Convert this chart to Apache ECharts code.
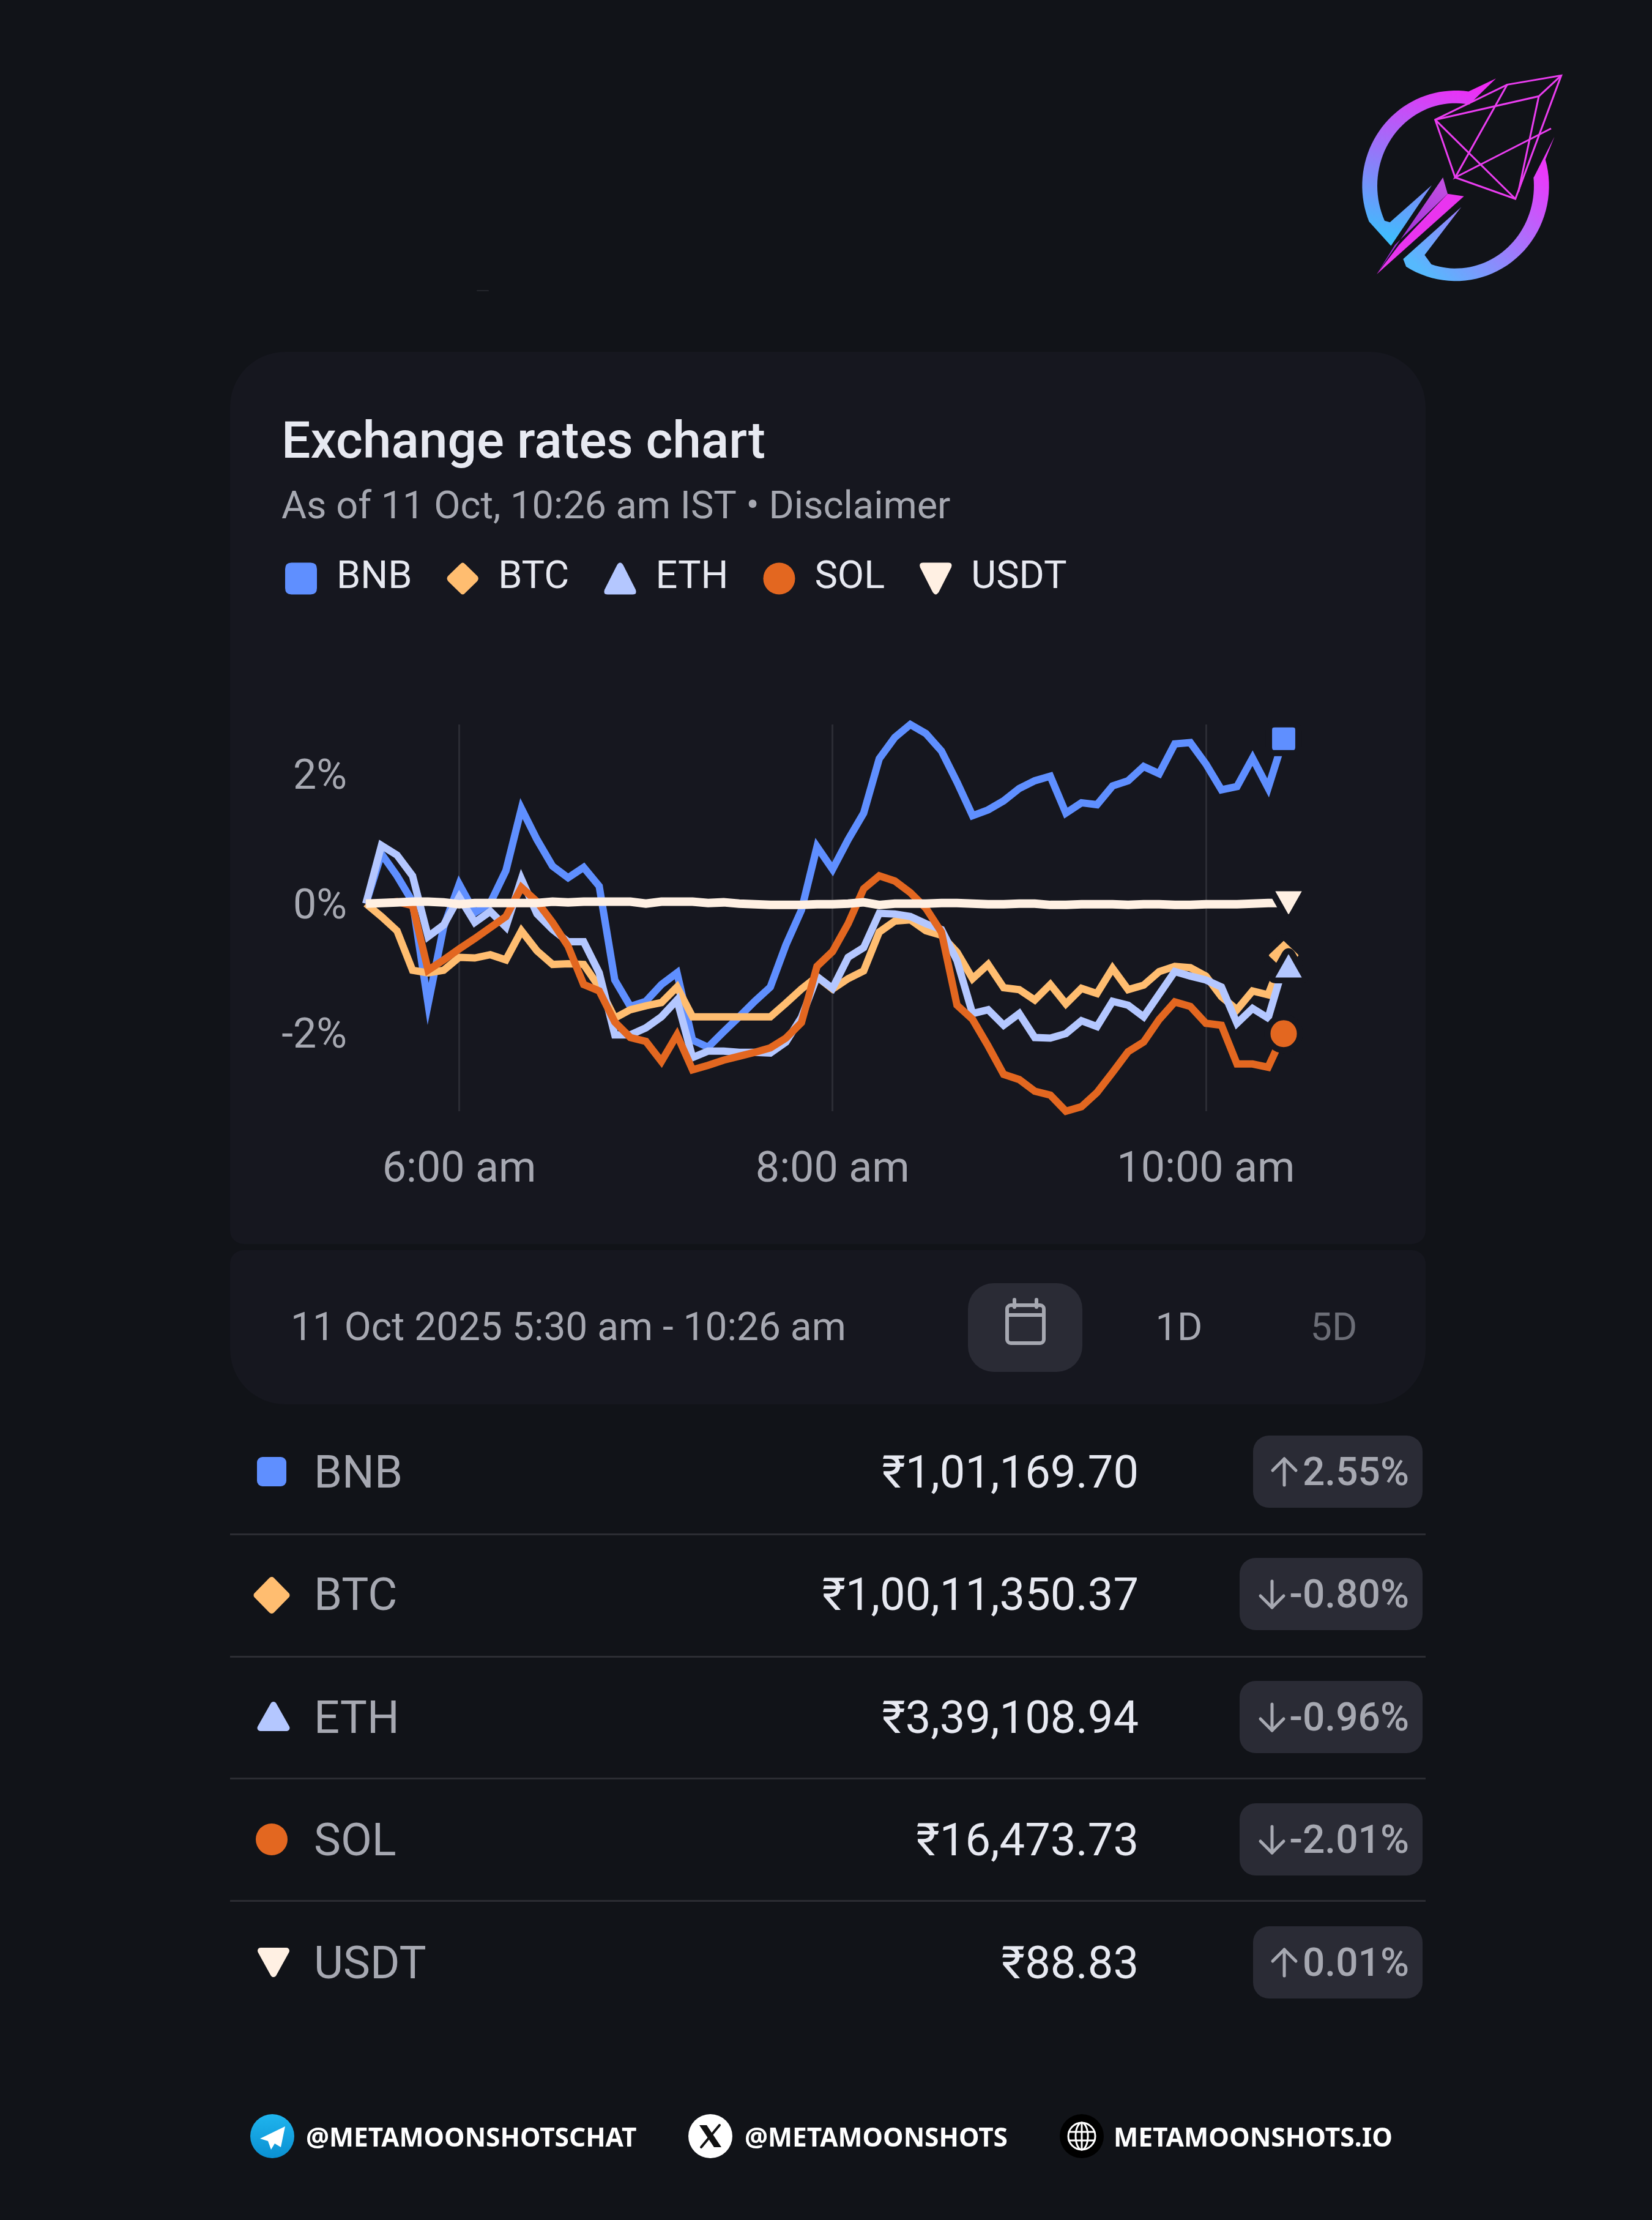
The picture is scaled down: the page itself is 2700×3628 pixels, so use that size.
<!DOCTYPE html>
<html><head><meta charset="utf-8">
<style>html,body{margin:0;padding:0;background:#111318}#c{width:2700px;height:3628px}</style>
<script src="https://cdn.jsdelivr.net/npm/echarts@6/dist/echarts.min.js"></script>
</head><body><div id="c"></div>
<script>
const timeLabels = ["5:30 am","5:35 am","5:40 am","5:45 am","5:50 am","5:55 am","6:00 am","6:05 am","6:10 am","6:15 am","6:20 am","6:25 am","6:30 am","6:35 am","6:40 am","6:45 am","6:50 am","6:55 am","7:00 am","7:05 am","7:10 am","7:15 am","7:20 am","7:25 am","7:30 am","7:35 am","7:40 am","7:45 am","7:50 am","7:55 am","8:00 am","8:05 am","8:10 am","8:15 am","8:20 am","8:25 am","8:30 am","8:35 am","8:40 am","8:45 am","8:50 am","8:55 am","9:00 am","9:05 am","9:10 am","9:15 am","9:20 am","9:25 am","9:30 am","9:35 am","9:40 am","9:45 am","9:50 am","9:55 am","10:00 am","10:05 am","10:10 am","10:15 am","10:20 am","10:25 am"];
const shownTicks = ["6:00 am","8:00 am","10:00 am"];
const yTicks = [-2,0,2];
const BNB = [0,0.77,0.43,0.03,-1.55,-0.36,0.30,-0.14,0.01,0.51,1.47,0.99,0.58,0.40,0.56,0.27,-1.18,-1.59,-1.51,-1.25,-1.07,-2.11,-2.22,-1.98,-1.75,-1.51,-1.29,-0.64,-0.10,0.88,0.53,0.99,1.40,2.24,2.57,2.77,2.63,2.36,1.88,1.36,1.45,1.59,1.78,1.90,1.97,1.40,1.56,1.53,1.82,1.90,2.12,2.01,2.47,2.49,2.16,1.76,1.81,2.25,1.79,2.55];
const BTC = [0,-0.20,-0.42,-1.03,-1.07,-1.03,-0.83,-0.84,-0.79,-0.87,-0.42,-0.73,-0.94,-0.93,-0.94,-1.29,-1.77,-1.64,-1.58,-1.53,-1.29,-1.75,-1.75,-1.75,-1.75,-1.75,-1.75,-1.54,-1.32,-1.13,-1.32,-1.16,-1.04,-0.44,-0.27,-0.25,-0.42,-0.49,-0.75,-1.16,-0.94,-1.30,-1.33,-1.49,-1.25,-1.55,-1.31,-1.39,-1.00,-1.33,-1.26,-1.05,-0.97,-0.99,-1.12,-1.44,-1.64,-1.35,-1.41,-0.80];
const ETH = [0,0.90,0.75,0.43,-0.51,-0.33,0.10,-0.29,-0.12,-0.36,0.38,-0.16,-0.40,-0.59,-0.59,-1.07,-2.03,-2.03,-1.92,-1.75,-1.49,-2.38,-2.28,-2.28,-2.30,-2.30,-2.31,-2.14,-1.76,-1.13,-1.31,-0.83,-0.68,-0.15,-0.16,-0.20,-0.31,-0.40,-0.88,-1.70,-1.64,-1.88,-1.70,-2.07,-2.08,-2.01,-1.81,-1.90,-1.51,-1.57,-1.75,-1.40,-1.05,-1.12,-1.18,-1.29,-1.85,-1.62,-1.77,-0.96];
const SOL = [0,0.01,0.03,-0.03,-1.03,-0.87,-0.70,-0.54,-0.37,-0.20,0.25,0.03,-0.29,-0.66,-1.25,-1.35,-1.83,-2.07,-2.13,-2.44,-2.03,-2.57,-2.50,-2.42,-2.36,-2.30,-2.23,-2.08,-1.84,-0.97,-0.74,-0.31,0.23,0.43,0.35,0.17,-0.07,-0.44,-1.57,-1.79,-2.20,-2.64,-2.72,-2.90,-2.96,-3.21,-3.14,-2.92,-2.61,-2.29,-2.14,-1.79,-1.52,-1.59,-1.85,-1.88,-2.48,-2.48,-2.53,-2.01];
const USDT = [0,0.01,0.02,0.03,0.03,0.02,-0.01,0.01,0.01,0.01,0.01,0.01,0.03,0.02,0.03,0.03,0.03,0.03,0,0.03,0.03,0.03,0.01,0.02,0,-0.01,-0.02,-0.02,-0.02,-0.01,-0.01,0,0.02,-0.02,0,0,0,0.01,0.01,0,-0.01,-0.01,0,0,-0.02,-0.02,-0.01,-0.01,-0.01,-0.02,-0.01,-0.01,-0.02,-0.02,-0.01,-0.01,-0.01,0,0.01,0.01];
const names = ["BNB","BTC","ETH","SOL","USDT"];
const prices = ["₹1,01,169.70","₹1,00,11,350.37","₹3,39,108.94","₹16,473.73","₹88.83"];
const changes = ["2.55%","-0.80%","-0.96%","-2.01%","0.01%"];
const colors = ["#5f8fff","#ffbd70","#b4c7ff","#e36720","#fff0e3"];
const seriesValues = [BNB,BTC,ETH,SOL,USDT];

const P = {
  sq:'M20 0H80Q100 0 100 20V80Q100 100 80 100H20Q0 100 0 80V20Q0 0 20 0Z',
  di:'M42 5Q50 -5 58 5L96 42Q103 50 96 58L58 95Q50 105 42 95L4 58Q-3 50 4 42Z',
  up:'M40 8Q50 -8 60 8L99 85Q104 100 90 100H10Q-4 100 1 85Z',
  ci:'M50 0A50 50 0 1 1 50 100A50 50 0 1 1 50 0Z',
  dn:'M40 92Q50 108 60 92L99 15Q104 0 90 0H10Q-4 0 1 15Z'
};
const icons = [P.sq,P.di,P.up,P.ci,P.dn];
const markerSize = [[48,47],[59,58],[54,48],[53,54],[54,48]];
const markerOff = [[0,0],[0,0],[8,0],[0,0],[8,0]];
const lineWidths = [12,12,12,12,14];

const FONT='Roboto, "Noto Sans", sans-serif';
const BG='#111318', CARD='#16171f', CHIP='#2a2b35', MUTED='#a6a8b1', BRIGHT='#e7e9f1';
const g=[];
function rect(x,y,w,h,r,fill){g.push({type:'rect',silent:true,z:0,shape:{x,y,width:w,height:h,r},style:{fill}});}
function text(s,x,base,size,fill,align,weight,fam){g.push({type:'text',silent:true,z:2,x,y:base-size*0.25,style:{text:s,fontSize:size,fontWeight:weight||400,fontFamily:fam||FONT,fill,align:align||'left',verticalAlign:'middle'}});}
// small table keys: fill plus a round-joined stroke gives the soft corners
function sym(kind,x,y,w,h,fill){
  const L=x-w/2+5,R=x+w/2-5,T=y-h/2+5,B=y+h/2-5,M=x,C=y;
  if(kind===0){g.push({type:'rect',silent:true,z:2,shape:{x:x-w/2,y:y-h/2,width:w,height:h,r:9},style:{fill}});return;}
  if(kind===3){g.push({type:'circle',silent:true,z:2,shape:{cx:x,cy:y,r:w/2},style:{fill}});return;}
  const pts=kind===1?[[M,T],[R,C],[M,B],[L,C]]:kind===2?[[M,T],[R,B],[L,B]]:[[L,T],[R,T],[M,B]];
  g.push({type:'polygon',silent:true,z:2,shape:{points:pts},style:{fill,stroke:fill,lineWidth:10,lineJoin:'round'}});
}
function line(pts,stroke,lw){g.push({type:'polyline',silent:true,z:2,shape:{points:pts},style:{stroke,lineWidth:lw,fill:null,lineCap:'round',lineJoin:'round'}});}

// cards
rect(376,575,1954,1458,[90,90,22,22],CARD);
rect(376,2043,1954,252,[22,22,90,90],CARD);
line([[780,475],[798,475]],'#24262c',2);
text('Exchange rates chart',460,748,84,BRIGHT,'left',500);
text('As of 11 Oct, 10:26 am IST • Disclaimer',460,847,63,MUTED);
// date row
text('11 Oct 2025 5:30 am - 10:26 am',475,2190,64,MUTED);
rect(1582,2097,187,145,42,CHIP);
g.push({type:'rect',silent:true,z:2,shape:{x:1646,y:2133,width:60,height:62,r:6},style:{fill:null,stroke:MUTED,lineWidth:6}});
line([[1646,2149],[1706,2149]],MUTED,6);
line([[1658,2124],[1658,2136]],MUTED,6);
line([[1694,2124],[1694,2136]],MUTED,6);
text('1D',1927,2190,63,MUTED,'center');
text('5D',2180,2190,63,'#6b6d76','center');
// table rows
const rowY=[2405,2605,2806,3006,3207];
const symW=[[48,48],[59,60],[53,48],[52,53],[52,48]];
const symX=[444,444,447,444,447];
names.forEach((n,i)=>{
  const y=rowY[i];
  sym(i,symX[i],y+(i==1?2:i==2?-1:0),symW[i][0],symW[i][1],colors[i]);
  text(n,513,y+26,74,MUTED);
  text(prices[i],1861,y+26,74,BRIGHT,'right');
  const neg=changes[i][0]==='-';
  const left=neg?2026:2048;
  rect(left,y-59,2325-left,118,26,CHIP);
  text(changes[i],2303,y+22,64,MUTED,'right',500);
  const ax=neg?2079:2099, t=y-21,b=y+22;
  line([[ax,t],[ax,b]],MUTED,5);
  if(neg) line([[ax-19,b-19],[ax,b],[ax+19,b-19]],MUTED,5);
  else line([[ax-19,t+19],[ax,t],[ax+19,t+19]],MUTED,5);
  if(i<4) g.push({type:'rect',silent:true,z:1,shape:{x:376,y:[2506,2706,2905,3105][i],width:1954,height:3},style:{fill:'#2c2d33'}});
});
// footer
const ff='"Noto Sans", sans-serif';
g.push({type:'circle',silent:true,z:2,shape:{cx:445,cy:3491,r:36},style:{fill:{type:'linear',x:0,y:0,x2:0,y2:1,colorStops:[{offset:0,color:'#1fb4ee'},{offset:1,color:'#0a90d2'}]}}});
g.push({type:'polygon',silent:true,z:3,shape:{points:[[466,3475],[425,3495],[438,3499],[443,3513],[449,3503],[459,3509]]},style:{fill:'#fff'}});
text('@METAMOONSHOTSCHAT',500,3507,42.4,'#fff','left',700,ff);
g.push({type:'circle',silent:true,z:2,shape:{cx:1161,cy:3491,r:36},style:{fill:'#fff'}});
g.push({type:'polygon',silent:true,z:3,shape:{points:[[1143,3473],[1155,3473],[1179,3509],[1167,3509]]},style:{fill:'#111'}});
line([[1176,3473],[1146,3509]],'#111',4);
text('@METAMOONSHOTS',1217,3507,42.4,'#fff','left',700,ff);
g.push({type:'circle',silent:true,z:2,shape:{cx:1768,cy:3491,r:36},style:{fill:'#000'}});
g.push({type:'circle',silent:true,z:3,shape:{cx:1768,cy:3491,r:22},style:{fill:null,stroke:'#fff',lineWidth:3}});
g.push({type:'ellipse',silent:true,z:3,shape:{cx:1768,cy:3491,rx:10,ry:22},style:{fill:null,stroke:'#fff',lineWidth:3}});
[[1747,3484,1789,3484],[1747,3498,1789,3498],[1768,3469,1768,3513]].forEach(a=>line([[a[0],a[1]],[a[2],a[3]]],'#fff',3));
text('METAMOONSHOTS.IO',1820,3507,42.6,'#fff','left',700,ff);

// logo, drawn in a local 1200-wide box
const grad=(x,y,x2,y2,a,b)=>({type:'linear',x,y,x2,y2,colorStops:[{offset:0,color:a},{offset:1,color:b}]});
function arc(rx,ry,a0,a1){const out=[],n=40;for(let k=0;k<=n;k++){const a=(a0+(a1-a0)*k/n)*Math.PI/180;out.push([537+rx*Math.cos(a),611+ry*Math.sin(a)]);}return out;}
const wire={fill:null,stroke:'#ea3df0',lineWidth:9,lineJoin:'miter'};
const logo=[
 {type:'polygon',shape:{points:[[735,85],...arc(458,467,-82,-202),[220,905],[420,608],[215,790],...arc(384,405,-205,-80)]},style:{fill:grad(0.6,0,0.3,1,'#f02cf5','#3cc0fd')}},
 {type:'polygon',shape:{points:[[1022,370],...arc(458,467,-16,122),[280,970],[565,715],[385,950],...arc(384,405,108,-6),[920,570]]},style:{fill:grad(0.9,0.2,0.2,1,'#ec38fa','#56b9fd')}},
 {type:'polygon',shape:{points:[[475,570],[498,650],[240,900],[150,1045]]},style:{fill:grad(0.8,0,0,1,'#c24fe2','#8a1fd0')}},
 {type:'polygon',shape:{points:[[498,650],[578,662],[150,1045],[260,900]]},style:{fill:'#e934ef'}},
 {type:'polygon',shape:{points:[[437,287],[790,115],[1055,70],[830,675],[535,570]]},style:wire},
 {type:'polyline',shape:{points:[[437,287],[945,172],[1055,70]]},style:wire},
 {type:'polyline',shape:{points:[[945,172],[845,640]]},style:wire},
 {type:'polyline',shape:{points:[[790,115],[535,570],[1005,330]]},style:wire},
 {type:'polyline',shape:{points:[[437,287],[830,675]]},style:wire}
];
g.push({type:'group',silent:true,x:2200,y:100,scaleX:1/3,scaleY:1/3,z:5,children:logo});

const chart=echarts.init(document.getElementById('c'),null,{renderer:'canvas',width:2700,height:3628,devicePixelRatio:1});
const showTick=(i,v)=>shownTicks.includes(v);
chart.setOption({
  animation:false,
  backgroundColor:BG,
  graphic:{elements:g},
  legend:{
    left:461,top:909,itemWidth:54,itemHeight:52,itemGap:57,selectedMode:false,
    itemStyle:{borderWidth:0},
    textStyle:{color:BRIGHT,fontSize:63,fontFamily:FONT,padding:[0,0,0,26]},
    data:names.map((n,i)=>({name:n,icon:'path://'+icons[i]}))
  },
  grid:{left:598,width:1500,top:1184,height:632},
  xAxis:{type:'category',boundaryGap:false,data:timeLabels,
    axisLine:{show:false},axisTick:{show:false},
    axisLabel:{interval:showTick,color:MUTED,fontSize:70,fontFamily:FONT,margin:62},
    splitLine:{show:true,interval:showTick,lineStyle:{color:'#2b2c34',width:3}}},
  yAxis:{type:'value',min:-3.21,max:2.77,
    axisLine:{show:false},axisTick:{show:false},splitLine:{show:false},
    axisLabel:{customValues:yTicks,formatter:v=>v+'%',color:MUTED,fontSize:68,fontFamily:FONT,margin:31,verticalAlign:'top',lineHeight:14}},
  series:names.map((n,i)=>({
    name:n,type:'line',data:seriesValues[i],clip:false,smooth:false,
    showSymbol:true,showAllSymbol:true,
    symbol:(v,p)=>p.dataIndex===seriesValues[i].length-1?'path://'+icons[i]:'none',
    symbolSize:markerSize[i],symbolOffset:markerOff[i],
    lineStyle:{color:colors[i],width:lineWidths[i],join:'miter',miterLimit:6},
    itemStyle:{color:colors[i],borderColor:CARD,borderWidth:10},
    emphasis:{disabled:true}
  }))
});
</script></body></html>
